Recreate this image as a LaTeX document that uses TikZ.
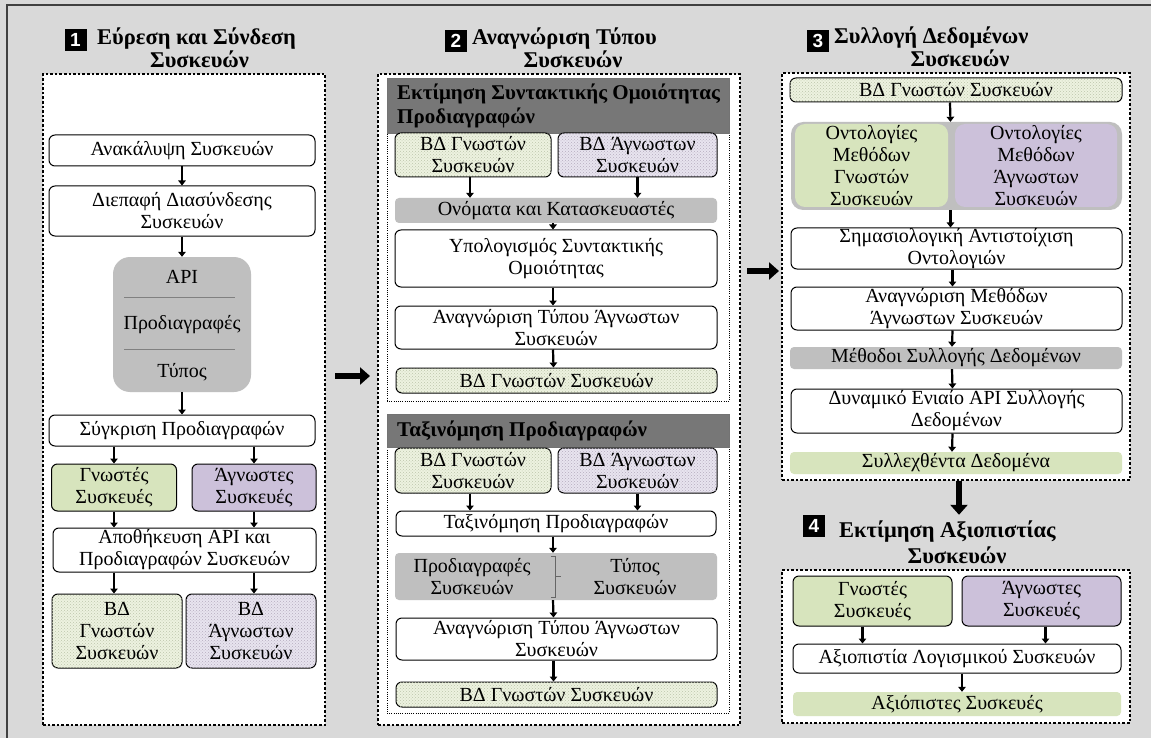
\documentclass[tikz,border=0pt]{standalone}
\usepackage{fontspec}
\setmainfont{Liberation Serif}
\newfontfamily\numfont{Liberation Sans}
\usetikzlibrary{arrows.meta,patterns}

\definecolor{bggray}{HTML}{D9D9D9}
\definecolor{lgreen}{HTML}{D7E4BD}
\definecolor{lpurple}{HTML}{CCC1DA}
\definecolor{dbgreen}{HTML}{EDF2E0}
\definecolor{dbpurple}{HTML}{E8E4EF}
\definecolor{boxgray}{HTML}{BFBFBF}
\definecolor{hdrgray}{HTML}{777777}
\definecolor{framegray}{HTML}{404040}

\newcommand{\bodysize}{\fontsize{20}{22}\selectfont}
\newcommand{\titlesize}{\fontsize{22.5}{24}\selectfont\bfseries}
\newcommand{\hdrsize}{\fontsize{21}{24}\selectfont\bfseries}

\tikzset{
  box/.style={draw, line width=1pt, rounded corners=6pt, fill=white, align=center,
    inner sep=0pt, font=\bodysize},
  knownbox/.style={box, fill=lgreen},
  unknownbox/.style={box, fill=lpurple},
  knowndb/.style={box, fill=dbgreen, postaction={pattern=crosshatch dots, pattern color=lgreen!70!gray}},
  unknowndb/.style={box, fill=dbpurple, postaction={pattern=crosshatch dots, pattern color=lpurple!70!gray}},
  flatbox/.style={rounded corners=4pt, fill=boxgray, align=center, inner sep=0pt, font=\bodysize},
  resultbox/.style={flatbox, fill=lgreen},
  hdr/.style={draw=black!55, line width=0.5pt, fill=hdrgray, inner sep=0pt},
  hdrtext/.style={anchor=west, align=left, inner sep=0pt, font=\hdrsize},
  panel/.style={draw, line width=2.6pt, dash pattern=on 2.6pt off 2pt, fill=white},
  subpanel/.style={draw, line width=0.7pt, dash pattern=on 0.8pt off 1.4pt},
  numbox/.style={fill=black, text=white, minimum size=22pt, inner sep=0pt,
    font=\numfont\bfseries\fontsize{19}{19}\selectfont},
  titletext/.style={inner sep=0pt, font=\titlesize},
  arr/.style={line width=2.2pt, -{Triangle[length=5pt,width=7.5pt]}},
  bigarr/.style={line width=6pt, -{Triangle[length=10pt,width=17pt]}},
}

\begin{document}
\begin{tikzpicture}[x=1pt,y=-1pt]
\useasboundingbox (0,0) rectangle (1151,738);
\fill[bggray] (0,0) rectangle (1151,738);
\draw[framegray, line width=1.6pt] (7,5) rectangle (1165,750);

% ---------------- Panel 1 ----------------
\node[numbox] (n1) at (75.5,40) {1};
\node[titletext, anchor=base west] (t1a) at (97,45) {Εύρεση και Σύνδεση};
\node[titletext, anchor=base] (t1b) at (199.5,68) {Συσκευών};
\node[panel, minimum width=282, minimum height=651] (p1) at (184,399.5) {};

\node[box, minimum width=266, minimum height=31] (a1) at (182,150.5) {Ανακάλυψη Συσκευών};
\node[box, minimum width=266, minimum height=50] (a2) at (182,211) {Διεπαφή Διασύνδεσης\\Συσκευών};
\node[rounded corners=17pt, fill=boxgray, minimum width=138, minimum height=135, inner sep=0pt] (a3) at (182,324.5) {};
\node[inner sep=0pt, font=\bodysize] (a3t1) at (182,277) {API};
\node[inner sep=0pt, font=\bodysize] (a3t2) at (182,325) {Προδιαγραφές};
\node[inner sep=0pt, font=\bodysize] (a3t3) at (182,372) {Τύπος};
\draw[black!50, line width=0.8pt] (124,297) -- (235,297);
\draw[black!50, line width=0.8pt] (124,349) -- (235,349);
\node[box, minimum width=266, minimum height=31] (a4) at (182,430.5) {Σύγκριση Προδιαγραφών};
\node[knownbox, minimum width=125, minimum height=47] (a5) at (114,487.5) {Γνωστές\\Συσκευές};
\node[unknownbox, minimum width=124, minimum height=47] (a6) at (254,487.5) {Άγνωστες\\Συσκευές};
\node[box, minimum width=263, minimum height=44] (a7) at (184.5,550) {Αποθήκευση API και\\Προδιαγραφών Συσκευών};
\node[knowndb, minimum width=130, minimum height=74] (a8) at (117,631) {ΒΔ\\Γνωστών\\Συσκευών};
\node[unknowndb, minimum width=130, minimum height=74] (a9) at (251,631) {ΒΔ\\Άγνωστων\\Συσκευών};

\draw[arr] (a1) -- (a2);
\draw[arr] (a2) -- (a3);
\draw[arr] (a3) -- (a4);
\draw[arr] (a4.south -| a5.north) -- (a5.north);
\draw[arr] (a4.south -| a6.north) -- (a6.north);
\draw[arr] (a5.south) -- (a5.south |- a7.north);
\draw[arr] (a6.south) -- (a6.south |- a7.north);
\draw[arr] (a7.south -| a5.south) -- (a5.south |- a8.north);
\draw[arr] (a7.south -| a6.south) -- (a6.south |- a9.north);

% ---------------- Panel 2 ----------------
\node[numbox] (n2) at (456,41) {2};
\node[titletext, anchor=base west] (t2a) at (472,45) {Αναγνώριση Τύπου};
\node[titletext, anchor=base] (t2b) at (573,68) {Συσκευών};
\node[panel, minimum width=362, minimum height=651] (p2) at (559,399.5) {};

% syntactic similarity section
\node[subpanel, minimum width=342, minimum height=323, inner sep=0pt] (s1) at (558,239.5) {};
\node[hdr, minimum width=342, minimum height=55] (h1) at (558,105.5) {};
\node[hdrtext] (h1t) at (397,105.5) {Εκτίμηση Συντακτικής Ομοιότητας\\Προδιαγραφών};
\node[knowndb, minimum width=156, minimum height=44] (b1) at (473,155) {ΒΔ Γνωστών\\Συσκευών};
\node[unknowndb, minimum width=159, minimum height=44] (b2) at (637.5,155) {ΒΔ Άγνωστων\\Συσκευών};
\node[flatbox, minimum width=322, minimum height=25] (b3) at (556,210.5) {Ονόματα και Κατασκευαστές};
\node[box, minimum width=322, minimum height=57] (b4) at (556,258.5) {Υπολογισμός Συντακτικής\\Ομοιότητας};
\node[box, minimum width=322, minimum height=43] (b5) at (556,327.5) {Αναγνώριση Τύπου Άγνωστων\\Συσκευών};
\node[knowndb, minimum width=321, minimum height=25] (b6) at (556.5,380.5) {ΒΔ Γνωστών Συσκευών};

\draw[arr] ([xshift=-3pt]b1.south) -- ([xshift=-3pt]b1.south |- b3.north);
\draw[arr] (b2.south) -- (b2.south |- b3.north);
\draw[arr] ([xshift=-3pt]b3.south) -- ([xshift=-3pt]b4.north);
\draw[arr] ([xshift=-3pt]b4.south) -- ([xshift=-3pt]b5.north);
\draw[arr] ([xshift=-3pt]b5.south) -- ([xshift=-3pt]b6.north);

% classification section
\node[subpanel, minimum width=342, minimum height=299, inner sep=0pt] (s2) at (558,563.5) {};
\node[hdr, minimum width=342, minimum height=33] (h2) at (558,430.5) {};
\node[hdrtext] (h2t) at (397,430.5) {Ταξινόμηση Προδιαγραφών};
\node[knowndb, minimum width=156, minimum height=45] (c1) at (473,470.5) {ΒΔ Γνωστών\\Συσκευών};
\node[unknowndb, minimum width=159, minimum height=45] (c2) at (637.5,470.5) {ΒΔ Άγνωστων\\Συσκευών};
\node[box, minimum width=320, minimum height=25] (c3) at (556,523.5) {Ταξινόμηση Προδιαγραφών};
\node[flatbox, minimum width=322, minimum height=47] (c4) at (556,576.5) {};
\node[inner sep=0pt, align=center, font=\bodysize] (c4a) at (472,576.5) {Προδιαγραφές\\Συσκευών};
\node[inner sep=0pt, align=center, font=\bodysize] (c4b) at (635,576.5) {Τύπος\\Συσκευών};
\draw[black!60, line width=0.8pt] (551,556) -- (555,556) -- (555,597) -- (551,597);
\draw[black!60, line width=0.8pt] (555,576) -- (561,576);
\node[box, minimum width=321, minimum height=42] (c5) at (556.5,639) {Αναγνώριση Τύπου Άγνωστων\\Συσκευών};
\node[knowndb, minimum width=321, minimum height=25] (c6) at (556.5,694.5) {ΒΔ Γνωστών Συσκευών};

\draw[arr] ([xshift=-3pt]c1.south) -- ([xshift=-3pt]c1.south |- c3.north);
\draw[arr] (c2.south) -- (c2.south |- c3.north);
\draw[arr] ([xshift=-3pt]c3.south) -- ([xshift=-3pt]c4.north);
\draw[arr] ([xshift=-3pt]c4.south) -- ([xshift=-3pt]c5.north);
\draw[arr] ([xshift=-3pt]c5.south) -- ([xshift=-3pt]c6.north);

% ---------------- Panel 3 ----------------
\node[numbox] (n3) at (818,41) {3};
\node[titletext, anchor=base west] (t3a) at (834,44) {Συλλογή Δεδομένων};
\node[titletext, anchor=base] (t3b) at (960,67) {Συσκευών};
\node[panel, minimum width=348, minimum height=407] (p3) at (956,276.5) {};

\node[knowndb, minimum width=332, minimum height=24] (d1) at (956,90) {ΒΔ Γνωστών Συσκευών};
\node[rounded corners=12pt, fill=boxgray, minimum width=331, minimum height=88, inner sep=0pt] (d2) at (956.5,166) {};
\node[rounded corners=10pt, fill=lgreen, minimum width=153, minimum height=83, inner sep=0pt,
      align=center, font=\bodysize] (d2a) at (871.5,165.5) {Οντολογίες\\Μεθόδων\\Γνωστών\\Συσκευών};
\node[rounded corners=10pt, fill=lpurple, minimum width=162, minimum height=83, inner sep=0pt,
      align=center, font=\bodysize] (d2b) at (1036,165.5) {Οντολογίες\\Μεθόδων\\Άγνωστων\\Συσκευών};
\node[box, minimum width=331, minimum height=41] (d3) at (956.5,248.5) {Σημασιολογική Αντιστοίχιση\\Οντολογιών};
\node[box, minimum width=331, minimum height=43] (d4) at (956.5,308.5) {Αναγνώριση Μεθόδων\\Άγνωστων Συσκευών};
\node[flatbox, minimum width=332, minimum height=22] (d5) at (956,358) {Μέθοδοι Συλλογής Δεδομένων};
\node[box, minimum width=331, minimum height=44] (d6) at (956.5,411) {Δυναμικό Ενιαίο API Συλλογής\\Δεδομένων};
\node[resultbox, minimum width=332, minimum height=22] (d7) at (956,463) {Συλλεχθέντα Δεδομένα};

\draw[arr] ([xshift=-6pt]d1.south) -- ([xshift=-6pt]d2.north);
\draw[arr] ([xshift=-6pt]d2.south) -- ([xshift=-6pt]d3.north);
\draw[arr] ([xshift=-4pt]d3.south) -- ([xshift=-4pt]d4.north);
\draw[arr] ([xshift=-4pt]d4.south) -- ([xshift=-4pt]d5.north);
\draw[arr] ([xshift=-4pt]d5.south) -- ([xshift=-4pt]d6.north);
\draw[arr] ([xshift=-4pt]d6.south) -- ([xshift=-4pt]d7.north);

% ---------------- Panel 4 ----------------
\node[numbox] (n4) at (814,526) {4};
\node[titletext, anchor=base west] (t4a) at (839,537) {Εκτίμηση Αξιοπιστίας};
\node[titletext, anchor=base] (t4b) at (957,563) {Συσκευών};
\node[panel, minimum width=348, minimum height=153] (p4) at (956,646.5) {};

\node[knownbox, minimum width=159, minimum height=50] (e1) at (872.5,601) {Γνωστές\\Συσκευές};
\node[unknownbox, minimum width=159, minimum height=50] (e2) at (1041.5,601) {Άγνωστες\\Συσκευές};
\node[box, minimum width=328, minimum height=29] (e3) at (957,658.5) {Αξιοπιστία Λογισμικού Συσκευών};
\node[resultbox, minimum width=328, minimum height=24] (e4) at (957,704) {Αξιόπιστες Συσκευές};

\draw[arr] ([xshift=-10pt]e1.south) -- ([xshift=-10pt]e1.south |- e3.north);
\draw[arr] ([xshift=4pt]e2.south) -- ([xshift=4pt]e2.south |- e3.north);
\draw[arr] ([xshift=5pt]e3.south) -- ([xshift=5pt]e4.north);

% ---------------- Links between stages ----------------
\coordinate (l12a) at (335,376);
\coordinate (l12b) at (370,376);
\coordinate (l23a) at (747,271);
\coordinate (l23b) at (779,271);
\draw[bigarr] (l12a) -- (l12b);
\draw[bigarr] (l23a) -- (l23b);
\draw[bigarr] ([xshift=3pt]p3.south) -- ([xshift=3pt]p3.south |- n4.north);
\end{tikzpicture}
\end{document}
